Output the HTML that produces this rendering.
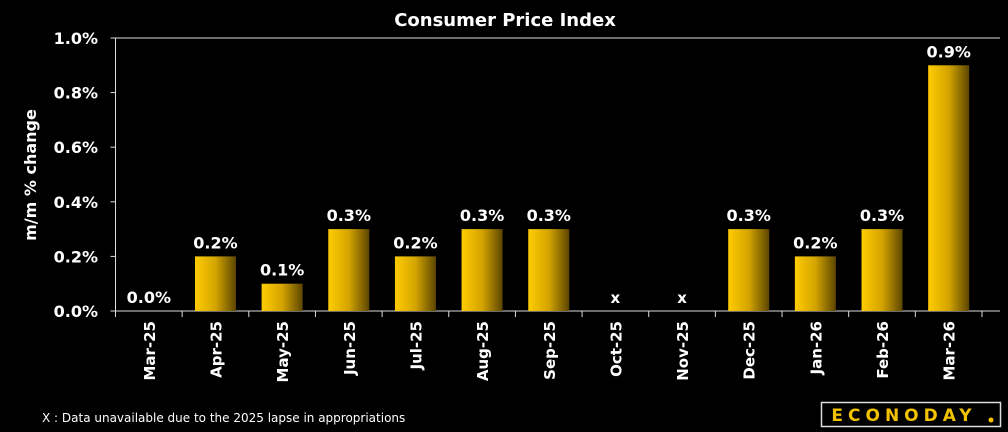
<!DOCTYPE html>
<html><head><meta charset="utf-8"><style>
html,body{margin:0;padding:0;background:#000;width:1008px;height:432px;overflow:hidden}
svg{display:block;font-family:"DejaVu Sans","Liberation Sans",sans-serif}
</style></head><body>
<svg id="chart" width="1008" height="432" viewBox="0 0 1008 432">
<defs><linearGradient id="bg" x1="0" x2="1" y1="0" y2="0"><stop offset="0" stop-color="#ffcc00"/><stop offset="0.5" stop-color="#d4a400"/><stop offset="1" stop-color="#5c4600"/></linearGradient></defs>
<text x="505" y="26" fill="#fff" font-size="18" font-weight="bold" text-anchor="middle">Consumer Price Index</text>
<text transform="translate(36,175) rotate(-90)" fill="#fff" font-size="16" font-weight="bold" text-anchor="middle">m/m % change</text>
<g id="plot"></g>
<text x="42" y="422" fill="#fff" font-size="12">X : Data unavailable due to the 2025 lapse in appropriations</text>
<g>
<rect x="821.5" y="402.5" width="179" height="24" fill="#000" stroke="#ddd" stroke-width="1.5"/>
<text x="904" y="421" fill="#f2c200" font-size="17" font-weight="bold" text-anchor="middle" letter-spacing="5">ECONODAY</text>
<circle cx="991" cy="420" r="2.5" fill="#f2c200"/>
</g>
</svg>
<script>
const categories=["Mar-25","Apr-25","May-25","Jun-25","Jul-25","Aug-25","Sep-25","Oct-25","Nov-25","Dec-25","Jan-26","Feb-26","Mar-26"];
const values=[0.0,0.2,0.1,0.3,0.2,0.3,0.3,null,null,0.3,0.2,0.3,0.9];
const yTicks=[0,0.2,0.4,0.6,0.8,1.0];
const NS="http://www.w3.org/2000/svg";
const L=115.5,R=982,RE=1000,T=38,B=311,ymax=1.0;
const bw=(R-L)/categories.length;
const x=i=>L+bw*(i+0.5);
const y=v=>B-(v/ymax)*(B-T);
const g=document.getElementById('plot');
function mk(t,a,txt){const e=document.createElementNS(NS,t);for(const k in a)e.setAttribute(k,a[k]);if(txt!=null)e.textContent=txt;g.appendChild(e);return e;}
yTicks.forEach(v=>{
 const t=mk('text',{x:98,y:y(v)+6,fill:'#fff','font-size':16,'font-weight':'bold','text-anchor':'end'},v.toFixed(1)+'%');
 
 
 const tk=mk('line',{x1:L-5,x2:L,y1:y(v),y2:y(v),stroke:'#ddd','stroke-width':1});
 
 
});
const ax=mk('line',{x1:L,x2:L,y1:T,y2:B,stroke:'#ddd','stroke-width':1});


const tp=mk('line',{x1:L,x2:RE,y1:T,y2:T,stroke:'#ddd','stroke-width':1});


const xa=mk('line',{x1:L,x2:RE,y1:B,y2:B,stroke:'#ddd','stroke-width':1});


for(let i=0;i<=categories.length;i++){
 const tk=mk('line',{x1:L+bw*i,x2:L+bw*i,y1:B,y2:B+6,stroke:'#ddd','stroke-width':1});
 
 
}
categories.forEach((c,i)=>{
 const cx=x(i);
 const lb=mk('text',{transform:`translate(${cx+6},${B+10}) rotate(-90)`,fill:'#fff','font-size':15,'font-weight':'bold','text-anchor':'end'},c);
 
 
 const v=values[i];
 if(v==null){
  const t=mk('text',{x:cx,y:B-8,fill:'#fff','font-size':15,'font-weight':'bold','text-anchor':'middle'},'x');
  
  
  return;
 }
 if(v>0){
  const r=mk('rect',{x:cx-20.5,y:y(v),width:41,height:B-y(v),fill:'url(#bg)'});
  
  
 }
 const t=mk('text',{x:cx,y:y(v)-8,fill:'#fff','font-size':16,'font-weight':'bold','text-anchor':'middle'},v.toFixed(1)+'%');
 
 
});
</script>
</body></html>
